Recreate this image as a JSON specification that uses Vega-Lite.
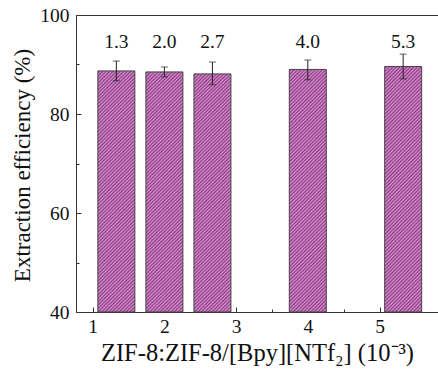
{
  "$schema": "https://vega.github.io/schema/vega-lite/v6.json",
  "width": 362,
  "height": 297,
  "autosize": {"type": "none"},
  "padding": {"left": 76, "top": 15, "right": 0, "bottom": 59},
  "background": "white",
  "config": {
    "font": "Liberation Serif",
    "view": {"stroke": null},
    "axis": {
      "grid": false,
      "domainColor": "#333333",
      "tickColor": "#333333",
      "labelColor": "#111111",
      "titleColor": "#111111",
      "labelFont": "Liberation Serif",
      "titleFont": "Liberation Serif",
      "labelFontSize": 19.5,
      "titleFontSize": 23,
      "titleFontWeight": "normal"
    }
  },
  "data": {
    "values": [
      {"x": 1.33, "label": "1.3", "y": 88.7, "lo": 86.7, "hi": 90.7},
      {"x": 2.0, "label": "2.0", "y": 88.5, "lo": 87.5, "hi": 89.5},
      {"x": 2.67, "label": "2.7", "y": 88.1, "lo": 85.9, "hi": 90.5},
      {"x": 4.0, "label": "4.0", "y": 89.0, "lo": 86.9, "hi": 90.9},
      {"x": 5.33, "label": "5.3", "y": 89.6, "lo": 87.1, "hi": 92.1}
    ]
  },
  "resolve": {"axis": {"x": "independent", "y": "independent"}},
  "layer": [
    {
      "mark": {
        "type": "bar",
        "width": 37,
        "stroke": "#444444",
        "strokeWidth": 1,
        "fill": {
          "gradient": "linear",
          "x1": 0, "y1": 0, "x2": 0.171, "y2": 1.126,
          "stops": [
            {"offset": 0, "color": "#d8c"}, {"offset": 0.00625, "color": "#848"},
            {"offset": 0.0125, "color": "#d8c"}, {"offset": 0.01875, "color": "#848"},
            {"offset": 0.025, "color": "#d8c"}, {"offset": 0.03125, "color": "#848"},
            {"offset": 0.0375, "color": "#d8c"}, {"offset": 0.04375, "color": "#848"},
            {"offset": 0.05, "color": "#d8c"}, {"offset": 0.05625, "color": "#848"},
            {"offset": 0.0625, "color": "#d8c"}, {"offset": 0.06875, "color": "#848"},
            {"offset": 0.075, "color": "#d8c"}, {"offset": 0.08125, "color": "#848"},
            {"offset": 0.0875, "color": "#d8c"}, {"offset": 0.09375, "color": "#848"},
            {"offset": 0.1, "color": "#d8c"}, {"offset": 0.10625, "color": "#848"},
            {"offset": 0.1125, "color": "#d8c"}, {"offset": 0.11875, "color": "#848"},
            {"offset": 0.125, "color": "#d8c"}, {"offset": 0.13125, "color": "#848"},
            {"offset": 0.1375, "color": "#d8c"}, {"offset": 0.14375, "color": "#848"},
            {"offset": 0.15, "color": "#d8c"}, {"offset": 0.15625, "color": "#848"},
            {"offset": 0.1625, "color": "#d8c"}, {"offset": 0.16875, "color": "#848"},
            {"offset": 0.175, "color": "#d8c"}, {"offset": 0.18125, "color": "#848"},
            {"offset": 0.1875, "color": "#d8c"}, {"offset": 0.19375, "color": "#848"},
            {"offset": 0.2, "color": "#d8c"}, {"offset": 0.20625, "color": "#848"},
            {"offset": 0.2125, "color": "#d8c"}, {"offset": 0.21875, "color": "#848"},
            {"offset": 0.225, "color": "#d8c"}, {"offset": 0.23125, "color": "#848"},
            {"offset": 0.2375, "color": "#d8c"}, {"offset": 0.24375, "color": "#848"},
            {"offset": 0.25, "color": "#d8c"}, {"offset": 0.25625, "color": "#848"},
            {"offset": 0.2625, "color": "#d8c"}, {"offset": 0.26875, "color": "#848"},
            {"offset": 0.275, "color": "#d8c"}, {"offset": 0.28125, "color": "#848"},
            {"offset": 0.2875, "color": "#d8c"}, {"offset": 0.29375, "color": "#848"},
            {"offset": 0.3, "color": "#d8c"}, {"offset": 0.30625, "color": "#848"},
            {"offset": 0.3125, "color": "#d8c"}, {"offset": 0.31875, "color": "#848"},
            {"offset": 0.325, "color": "#d8c"}, {"offset": 0.33125, "color": "#848"},
            {"offset": 0.3375, "color": "#d8c"}, {"offset": 0.34375, "color": "#848"},
            {"offset": 0.35, "color": "#d8c"}, {"offset": 0.35625, "color": "#848"},
            {"offset": 0.3625, "color": "#d8c"}, {"offset": 0.36875, "color": "#848"},
            {"offset": 0.375, "color": "#d8c"}, {"offset": 0.38125, "color": "#848"},
            {"offset": 0.3875, "color": "#d8c"}, {"offset": 0.39375, "color": "#848"},
            {"offset": 0.4, "color": "#d8c"}, {"offset": 0.40625, "color": "#848"},
            {"offset": 0.4125, "color": "#d8c"}, {"offset": 0.41875, "color": "#848"},
            {"offset": 0.425, "color": "#d8c"}, {"offset": 0.43125, "color": "#848"},
            {"offset": 0.4375, "color": "#d8c"}, {"offset": 0.44375, "color": "#848"},
            {"offset": 0.45, "color": "#d8c"}, {"offset": 0.45625, "color": "#848"},
            {"offset": 0.4625, "color": "#d8c"}, {"offset": 0.46875, "color": "#848"},
            {"offset": 0.475, "color": "#d8c"}, {"offset": 0.48125, "color": "#848"},
            {"offset": 0.4875, "color": "#d8c"}, {"offset": 0.49375, "color": "#848"},
            {"offset": 0.5, "color": "#d8c"}, {"offset": 0.50625, "color": "#848"},
            {"offset": 0.5125, "color": "#d8c"}, {"offset": 0.51875, "color": "#848"},
            {"offset": 0.525, "color": "#d8c"}, {"offset": 0.53125, "color": "#848"},
            {"offset": 0.5375, "color": "#d8c"}, {"offset": 0.54375, "color": "#848"},
            {"offset": 0.55, "color": "#d8c"}, {"offset": 0.55625, "color": "#848"},
            {"offset": 0.5625, "color": "#d8c"}, {"offset": 0.56875, "color": "#848"},
            {"offset": 0.575, "color": "#d8c"}, {"offset": 0.58125, "color": "#848"},
            {"offset": 0.5875, "color": "#d8c"}, {"offset": 0.59375, "color": "#848"},
            {"offset": 0.6, "color": "#d8c"}, {"offset": 0.60625, "color": "#848"},
            {"offset": 0.6125, "color": "#d8c"}, {"offset": 0.61875, "color": "#848"},
            {"offset": 0.625, "color": "#d8c"}, {"offset": 0.63125, "color": "#848"},
            {"offset": 0.6375, "color": "#d8c"}, {"offset": 0.64375, "color": "#848"},
            {"offset": 0.65, "color": "#d8c"}, {"offset": 0.65625, "color": "#848"},
            {"offset": 0.6625, "color": "#d8c"}, {"offset": 0.66875, "color": "#848"},
            {"offset": 0.675, "color": "#d8c"}, {"offset": 0.68125, "color": "#848"},
            {"offset": 0.6875, "color": "#d8c"}, {"offset": 0.69375, "color": "#848"},
            {"offset": 0.7, "color": "#d8c"}, {"offset": 0.70625, "color": "#848"},
            {"offset": 0.7125, "color": "#d8c"}, {"offset": 0.71875, "color": "#848"},
            {"offset": 0.725, "color": "#d8c"}, {"offset": 0.73125, "color": "#848"},
            {"offset": 0.7375, "color": "#d8c"}, {"offset": 0.74375, "color": "#848"},
            {"offset": 0.75, "color": "#d8c"}, {"offset": 0.75625, "color": "#848"},
            {"offset": 0.7625, "color": "#d8c"}, {"offset": 0.76875, "color": "#848"},
            {"offset": 0.775, "color": "#d8c"}, {"offset": 0.78125, "color": "#848"},
            {"offset": 0.7875, "color": "#d8c"}, {"offset": 0.79375, "color": "#848"},
            {"offset": 0.8, "color": "#d8c"}, {"offset": 0.80625, "color": "#848"},
            {"offset": 0.8125, "color": "#d8c"}, {"offset": 0.81875, "color": "#848"},
            {"offset": 0.825, "color": "#d8c"}, {"offset": 0.83125, "color": "#848"},
            {"offset": 0.8375, "color": "#d8c"}, {"offset": 0.84375, "color": "#848"},
            {"offset": 0.85, "color": "#d8c"}, {"offset": 0.85625, "color": "#848"},
            {"offset": 0.8625, "color": "#d8c"}, {"offset": 0.86875, "color": "#848"},
            {"offset": 0.875, "color": "#d8c"}, {"offset": 0.88125, "color": "#848"},
            {"offset": 0.8875, "color": "#d8c"}, {"offset": 0.89375, "color": "#848"},
            {"offset": 0.9, "color": "#d8c"}, {"offset": 0.90625, "color": "#848"},
            {"offset": 0.9125, "color": "#d8c"}, {"offset": 0.91875, "color": "#848"},
            {"offset": 0.925, "color": "#d8c"}, {"offset": 0.93125, "color": "#848"},
            {"offset": 0.9375, "color": "#d8c"}, {"offset": 0.94375, "color": "#848"},
            {"offset": 0.95, "color": "#d8c"}, {"offset": 0.95625, "color": "#848"},
            {"offset": 0.9625, "color": "#d8c"}, {"offset": 0.96875, "color": "#848"},
            {"offset": 0.975, "color": "#d8c"}, {"offset": 0.98125, "color": "#848"},
            {"offset": 0.9875, "color": "#d8c"}, {"offset": 0.99375, "color": "#848"},
            {"offset": 1, "color": "#d8c"}
          ]
        }
      },
      "encoding": {
        "x": {
          "field": "x", "type": "quantitative",
          "scale": {"domain": [0.837, 5.746], "nice": false, "zero": false},
          "axis": {
            "orient": "bottom", "values": [1, 2, 3, 4, 5], "tickSize": -5, "labelPadding": 10,
            "title": "ZIF-8:ZIF-8/[Bpy][NTf₂] (10⁻³)", "titleFontSize": 24.5, "titlePadding": 6
          }
        },
        "y": {
          "field": "y", "type": "quantitative",
          "scale": {"domain": [40, 100], "nice": false, "zero": false},
          "axis": {
            "orient": "left", "values": [40, 60, 80, 100], "tickSize": -5, "labelPadding": 12,
            "title": "Extraction efficiency (%)", "titlePadding": 5, "titleY": 150
          }
        },
        "y2": {"datum": 40}
      }
    },
    {
      "mark": {"type": "rule", "color": "#222222", "strokeWidth": 1},
      "encoding": {
        "x": {
          "field": "x", "type": "quantitative",
          "axis": {"orient": "bottom", "values": [1.5, 2.5, 3.5, 4.5, 5.5], "tickSize": -3, "labels": false, "domain": false, "title": null}
        },
        "y": {
          "field": "lo", "type": "quantitative",
          "axis": {"orient": "left", "values": [50, 70, 90], "tickSize": -3, "labels": false, "domain": false, "title": null}
        },
        "y2": {"field": "hi"}
      }
    },
    {
      "mark": {"type": "tick", "orient": "horizontal", "size": 7, "thickness": 1, "color": "#222222"},
      "encoding": {
        "x": {
          "field": "x", "type": "quantitative",
          "axis": {"orient": "top", "ticks": false, "labels": false, "domain": true, "title": null}
        },
        "y": {"field": "lo", "type": "quantitative", "axis": null}
      }
    },
    {
      "mark": {"type": "tick", "orient": "horizontal", "size": 7, "thickness": 1, "color": "#222222"},
      "encoding": {
        "x": {"field": "x", "type": "quantitative", "axis": null},
        "y": {"field": "hi", "type": "quantitative", "axis": null}
      }
    },
    {
      "mark": {"type": "text", "fontSize": 19.5, "baseline": "middle", "color": "#111111", "font": "Liberation Serif"},
      "encoding": {
        "x": {"field": "x", "type": "quantitative", "axis": null},
        "y": {"datum": 94.6, "type": "quantitative", "axis": null},
        "text": {"field": "label"}
      }
    }
  ]
}
